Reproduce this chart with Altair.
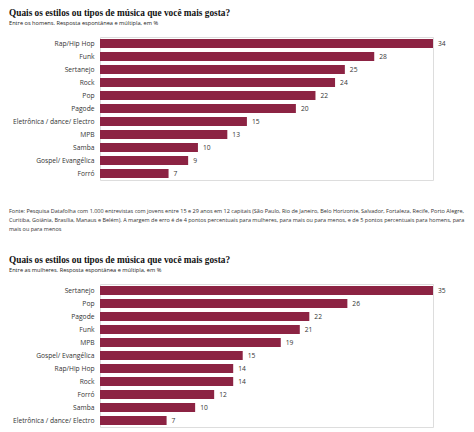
import altair as alt
import pandas as pd

title_text = "Quais os estilos ou tipos de música que você mais gosta?"
sub_men = "Entre os homens. Resposta espontânea e múltipla, em %"
sub_women = "Entre as mulheres. Resposta espontânea e múltipla, em %"

men_styles = ["Rap/Hip Hop", "Funk", "Sertanejo", "Rock", "Pop", "Pagode",
              "Eletrônica / dance/ Electro", "MPB", "Samba", "Gospel/ Evangélica", "Forró"]
men_values = [34, 28, 25, 24, 22, 20, 15, 13, 10, 9, 7]

women_styles = ["Sertanejo", "Pop", "Pagode", "Funk", "MPB", "Gospel/ Evangélica",
                "Rap/Hip Hop", "Rock", "Forró", "Samba", "Eletrônica / dance/ Electro"]
women_values = [35, 26, 22, 21, 19, 15, 14, 14, 12, 10, 7]

footer_lines = [
    "Fonte: Pesquisa Datafolha com 1.000 entrevistas com jovens entre 15 e 29 anos em 12 capitais (São Paulo, Rio de Janeiro, Belo Horizonte, Salvador, Fortaleza, Recife, Porto Alegre,",
    "Curitiba, Goiânia, Brasília, Manaus e Belém). A margem de erro é de 4 pontos percentuais para mulheres, para mais ou para menos, e de 5 pontos percentuais para homens, para",
    "mais ou para menos",
]

BAR = "#8c2343"
SANS = "Open Sans"
SERIF = "Liberation Serif"


def panel(styles, values, subtitle, footer=None):
    df = pd.DataFrame({"estilo": styles, "valor": values})
    base = alt.Chart(df)
    y = alt.Y("estilo:N", sort=styles, title=None,
              scale=alt.Scale(paddingInner=0.32, paddingOuter=0.16),
              axis=alt.Axis(ticks=False, domain=False, labelPadding=6,
                            labelFont=SANS, labelFontSize=6.7, labelColor="#333333",
                            minExtent=91, maxExtent=91))
    x = alt.X("valor:Q", title=None,
              scale=alt.Scale(domain=[0, max(values)], nice=False),
              axis=None)
    bars = base.mark_bar(color=BAR).encode(x=x, y=y)
    labels = base.mark_text(align="left", baseline="middle", dx=5,
                            font=SANS, fontSize=6.7, color="#333333").encode(
        x=x, y=y, text=alt.Text("valor:Q"))
    layers = [bars, labels]
    if footer:
        fdf = pd.DataFrame({"linhas": [footer]})
        foot = alt.Chart(fdf).mark_text(
            align="left", baseline="alphabetic", lineHeight=9,
            font=SANS, fontSize=5.5, color="#333333").encode(
            x=alt.value(-91), y=alt.value(175.5), text="linhas")
        layers.append(foot)
    return alt.layer(*layers).properties(
        width=333, height=143,
        title=alt.TitleParams(text=title_text, subtitle=subtitle, anchor="start",
                              font=SERIF, fontSize=9.3, fontWeight="bold", color="#111111",
                              subtitleFont=SANS, subtitleFontSize=5.65, subtitleColor="#222222",
                              subtitlePadding=3, offset=11)
    )


top = panel(men_styles, men_values, sub_men, footer_lines)
bottom = panel(women_styles, women_values, sub_women)

chart = alt.vconcat(top, bottom, spacing=22).resolve_scale(
    x="independent", y="independent"
).properties(
    padding=0
).configure_view(stroke=None).configure(background="white")

chart.save("out.html", embed_options={"renderer": "svg", "actions": False})
